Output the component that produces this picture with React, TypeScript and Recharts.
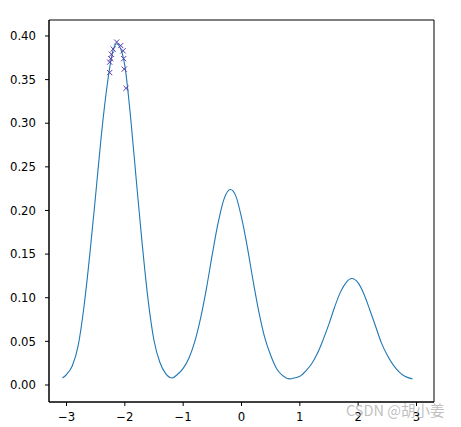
import React from "react";
import {
  ComposedChart,
  Line,
  Scatter,
  XAxis,
  YAxis,
  ReferenceArea,
} from "recharts";

// KDE-like curve
const curveX: number[] = [
  -3.07, -3.0, -2.9, -2.8, -2.7, -2.6, -2.5, -2.4, -2.3, -2.2, -2.14, -2.1, -2.0,
  -1.9, -1.8, -1.7, -1.6, -1.5, -1.4, -1.3, -1.19, -1.1, -1.0, -0.9, -0.8, -0.7,
  -0.6, -0.5, -0.4, -0.3, -0.19, -0.1, 0.0, 0.1, 0.2, 0.3, 0.4, 0.5, 0.6, 0.7,
  0.83, 0.9, 1.0, 1.1, 1.2, 1.3, 1.4, 1.5, 1.6, 1.7, 1.8, 1.89, 2.0, 2.1, 2.2,
  2.3, 2.4, 2.5, 2.6, 2.7, 2.8, 2.93,
];
const curveY: number[] = [
  0.008, 0.012, 0.022, 0.045, 0.09, 0.15, 0.218, 0.288, 0.345, 0.384, 0.391,
  0.389, 0.366, 0.306, 0.232, 0.16, 0.097, 0.051, 0.026, 0.013, 0.008, 0.012,
  0.019, 0.031, 0.05, 0.077, 0.111, 0.15, 0.186, 0.213, 0.224, 0.217, 0.192,
  0.158, 0.119, 0.083, 0.054, 0.034, 0.019, 0.011, 0.007, 0.008, 0.01, 0.016,
  0.024, 0.036, 0.052, 0.07, 0.09, 0.107, 0.118, 0.122, 0.117, 0.104, 0.086,
  0.067, 0.048, 0.034, 0.023, 0.015, 0.01, 0.007,
];

// 'x' markers near the first peak
const markX: number[] = [-2.14, -2.07, -2.2, -2.03, -2.23, -2.24, -2.02, -2.26, -2.01, -2.26, -1.98];
const markY: number[] = [0.393, 0.389, 0.385, 0.383, 0.379, 0.374, 0.374, 0.37, 0.362, 0.358, 0.34];

const xTicks: number[] = [-3, -2, -1, 0, 1, 2, 3];
const yTicks: number[] = [0, 0.05, 0.1, 0.15, 0.2, 0.25, 0.3, 0.35, 0.4];

const curveData = curveX.map((x, i) => ({ x, y: curveY[i] }));
const markData = markX.map((x, i) => ({ x, y: markY[i] }));

const X_DOMAIN: [number, number] = [-3.3, 3.3];
const Y_DOMAIN: [number, number] = [-0.0195, 0.4183];

const tickFont = {
  fontFamily: "DejaVu Sans",
  fontSize: 11.7,
  fill: "#000",
};

const XMark = (props: any) => {
  const { cx, cy } = props;
  const r = 2.6;
  return (
    <g stroke="#5b3aa8" strokeWidth={1}>
      <line x1={cx - r} y1={cy - r} x2={cx + r} y2={cy + r} />
      <line x1={cx - r} y1={cy + r} x2={cx + r} y2={cy - r} />
    </g>
  );
};

const fmtX = (v: number) => (v < 0 ? "\u2212" + Math.abs(v) : String(v));

export default function App() {
  return (
    <div style={{ position: "absolute", left: 0, top: 0, width: 461, height: 427, background: "#fff" }}>
      <ComposedChart
        width={461}
        height={427}
        data={curveData}
        margin={{ top: 20, right: 27, bottom: 0, left: 0 }}
      >
        <XAxis
          type="number"
          dataKey="x"
          domain={X_DOMAIN}
          ticks={xTicks}
          allowDataOverflow
          height={25}
          tickSize={4}
          tickMargin={7}
          tickFormatter={fmtX}
          tick={tickFont}
          stroke="#000"
          axisLine={{ stroke: "#000" }}
          tickLine={{ stroke: "#000" }}
        />
        <YAxis
          type="number"
          dataKey="y"
          domain={Y_DOMAIN}
          ticks={yTicks}
          allowDataOverflow
          width={49}
          tickSize={4}
          tickMargin={9}
          tickFormatter={(v: number) => v.toFixed(2)}
          tick={tickFont}
          axisLine={{ stroke: "#000" }}
          tickLine={{ stroke: "#000" }}
        />
        <ReferenceArea
          x1={X_DOMAIN[0]}
          x2={X_DOMAIN[1]}
          y1={Y_DOMAIN[0]}
          y2={Y_DOMAIN[1]}
          fill="none"
          stroke="#000"
          strokeWidth={1}
          ifOverflow="visible"
        />
        <Line
          type="monotone"
          dataKey="y"
          stroke="#1f77b4"
          strokeWidth={1.1}
          dot={false}
          isAnimationActive={false}
        />
        <Scatter
          data={markData}
          dataKey="y"
          shape={<XMark />}
          isAnimationActive={false}
        />
      </ComposedChart>
      <div
        style={{
          position: "absolute",
          left: 346,
          top: 401,
          height: 18,
          lineHeight: "18px",
          fontSize: 14.5,
          fontFamily: "'Noto Sans CJK SC', 'Noto Sans', sans-serif",
          color: "rgba(170,170,170,0.75)",
          whiteSpace: "nowrap",
        }}
      >
        CSDN @胡小姜
      </div>
    </div>
  );
}
